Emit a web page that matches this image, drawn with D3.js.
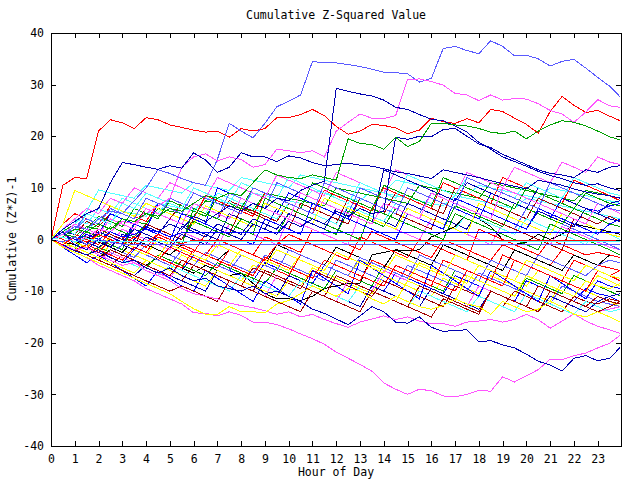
<!DOCTYPE html>
<html>
<head>
<meta charset="utf-8">
<script src="https://cdnjs.cloudflare.com/ajax/libs/d3/7.8.5/d3.min.js"></script>
<style>
body { margin: 0; background: #fff; }
text { font-family: "DejaVu Sans Mono", monospace; font-size: 11.5px; fill: #000; }
</style>
</head>
<body>
<svg></svg>
<script>
const size = { w: 640, h: 480 };
const plot = { l: 51, r: 621, t: 33, b: 446 };

// sample times (hours)
const hours = [0,0.5,1,1.5,2,2.5,3,3.5,4,4.5, 5,5.5,6,6.5,7,7.5,8,8.5,9,9.5,
  10,10.5,11,11.5,12,12.5,13,13.5,14,14.5, 15,15.5,16,16.5,17,17.5,18,18.5,19,19.5,
  20,20.5,21,21.5,22,22.5,23,23.5,23.95];

const xTicks = [0,1,2,3,4,5,6,7,8,9,10,11,12,13,14,15,16,17,18,19,20,21,22,23];
const yTicks = [-40,-30,-20,-10,0,10,20,30,40];

// the dense middle of the bundle
const m01 = [0.5,1,3,5.5,9.6,9,8.5,8,10.5,10, 9.5,9,11,10.5,10,9.5,12,11.5,11,10.5, 10,12.5,12,11.5,11,10.5,10,9.5,9,11.5, 11,10.5,10,9.5,9,8.5,10.5,10,9.5,9, 8.5,8,10,9.5,9,8.5,8,7.5,7];
const m02 = [0,0.5,2,1.5,4,3.5,5.5,5,4.5,7, 6.5,6,5.5,8,7.5,7,6.5,9,8.5,8, 7.5,7,9.5,9,8.5,8,7.5,9.5,9,8.5, 8,7.5,7,6.5,8.5,8,7.5,7,6.5,6, 8,7.5,7,6.5,6,5.5,5,4.5,4];
const m03 = [0,1,0.5,2.5,2,1.5,4,3.5,3,6, 5.5,5,4.5,7.5,7,6.5,6,5.5,9,8.5, 8,7.5,7,6.5,10,9.5,9,8.5,8,7.5, 7,10.5,10,9.5,9,8.5,8,11,10.5,10, 9.5,9,8.5,8,7.5,9.5,9,8.5,8];
const m04 = [1,0,-1,-2,1.5,0.5,-0.5,-1.5,-2.5,0.5, -0.5,-1.5,-2.5,1,0,-1,-2,-3,0.5,-0.5, -1.5,-2.5,2,1,0,-1,-2,1.5,0.5,-0.5, -1.5,-2.5,-3.5,0,-1,-2,-3,-4,-1,-2, -3,-4,-5,-2,-3,-4,-5,-5.5,-6];
const m05 = [0,2,1,3.5,2.5,5,4,3,6,5, 4,7,6,5,4,7.5,6.5,5.5,4.5,3.5, 7,6,5,4,3,8,7,6,5,9, 8,7,6,5,10,9,8,7,6,5, 4,8,7,6,5,4,3,4.5,3.5];
const m06 = [0,-1,-2,-1.5,-2.5,-3.5,-4.5,-2,-3,-4, -5,-6,-3,-4,-5,-6,-7,-8,-4.5,-5.5, -6.5,-7.5,-8.5,-5,-6,-7,-8,-9,-10,-6.5, -7.5,-8.5,-9.5,-10.5,-7,-8,-9,-10,-11,-12, -8,-9,-10,-11,-12,-9.5,-10.5,-11,-12];
const m07 = [0,-1,-1.5,-2.5,-3.5,-1,-2,-3,-4,-5, -6,-3,-4,-5,-6,-7,-8,-5,-6,-7, -8,-9,-5.5,-6.5,-7.5,-8.5,-9.5,-10.5,-7,-8, -9,-10,-11,-7.5,-8.5,-9.5,-10.5,-7,-8,-9, -10,-11,-12,-8,-9,-10,-11,-12,-13];
const m08 = [0,-0.5,-1.5,-2.5,-3.5,-2,-3,-4,-5,-3.5, -4.5,-5.5,-6.5,-5,-6,-7,-6.5,-8.5,-10.5,-11.5, -11.5,-11.8,-11,-9.5,-9,-8.5,-8.5,-3,-2.5,-2, -2.2,-2,0.5,1.5,2.5,5,4,2.5,0,-1, -0.5,1,0,1,3,2.5,2,1.5,1];
const m09 = [0,1.5,1,0,2,1,0,3,2,1, 4,3,2,1,0,5,4,3,2,6, 5,4,3,2,1,6.5,5.5,4.5,3.5,2.5, 7,6,5,4,3,2,6,5,4,3, 2,5.5,4.5,3.5,2.5,6,5,4,3.5];
const m10 = [0,-0.5,-1.5,0.5,-0.5,-1.5,-2.5,-3.5,-1,-2, -3,-4,-5,-2.5,-3.5,-4.5,-5.5,-6.5,-3,-4, -5,-6,-7,-8,-4,-5,-6,-7,-8,-9, -5,-6,-7,-8,-9,-10,-6.5,-7.5,-8.5,-9.5, -10.5,-11.5,-12.5,-9,-10,-11,-12,-12.5,-13];
const m11 = [0,3,5,4,3,6.5,5.5,4.5,3.5,7, 6,5,4,8.5,7.5,6.5,5.5,4.5,9,8, 7,6,5,9.5,8.5,7.5,6.5,5.5,10,9, 8,7,6,11,10,9,8,7,12,11, 10,9,8,7,11.5,10.5,9.5,8.5,7.5];
const m12 = [0,-1,-2,-3,-1.5,-2.5,-3.5,-4.5,-5.5,-3, -4,-5,-6,-7,-4.5,-5.5,-6.5,-7.5,-8.5,-5.5, -6.5,-7.5,-8.5,-9.5,-6,-7,-8,-9,-5,-6, -7,-8,-9,-10,-6,-7,-8,-9,-10,-11, -7.5,-8.5,-9.5,-10.5,-7,-8,-9,-10,-11];
const m13 = [0,1,2,1,0,-1,2,1,0,-1, -2,1.5,0.5,-0.5,-1.5,3,2,1,0,-1, 4,3,2,1,0,-1,5,4,3,2, 1,0,4,3,2,1,0,-1,3,2, 1,0,-1,2.5,1.5,0.5,-0.5,-1.5,-2];
const m14 = [0,2,4,3,6,5,8,7,6,5, 8,7,6,5,9,8,7,6,5,4, 7,6,5,4,3,6.5,5.5,4.5,3.5,7, 6,5,4,3,2,5,4,3,2,1, 4,3,2,1,0,-1,2,1,0];
const m15 = [0,-1,-2,-3,-4,-5,-3,-4,-5,-6, -7,-8,-5,-6,-7,-8,-9,-5.5,-6.5,-7.5, -8.5,-9.5,-6,-7,-8,-9,-10,-11,-8,-9, -10,-11,-12,-13,-9,-10,-11,-12,-13,-10, -11,-12,-13,-14,-11,-12,-12.5,-11.5,-12];
const m16 = [0,1,0,-1,-2,0.5,-0.5,-1.5,-2.5,-3.5, 0,-1,-2,-3,-4,-5,-2,-3,-4,-5, -6,-3,-4,-5,-6,-7,-4,-5,-6,-7, -8,-4.5,-5.5,-6.5,-7.5,-8.5,-5,-6,-7,-8, -9,-6,-7,-8,-9,-10,-7,-8,-9];
const m17 = [0,1,3,2,1,5,4,3,2,7, 6,5,4,3,10,9,8,7,6,5, 9,8,7,6,5,4,8,7,6,5, 10,9,8,7,6,5,4,9,8,7, 6,5,4,8,7,6,5.5,6.5,7];
const m18 = [0,-0.5,-1,0.5,-0.5,-1.5,-2.5,0,-1,-2, -3,-1,-2,-3,-4,-2,-3,-4,-5,-1, -2,-3,-4,-5,-1.5,-2.5,-3.5,-4.5,-5.5,-2, -3,-4,-5,-1,-2,-3,-4,-5,-6,-2, -3,-4,-5,-6,-3,-4,-5,-3,-3.5];
const m19 = [0,-1,-2,-3,-4,-5,-6,-7,-5,-6, -7,-8,-9,-10,-6,-7,-8,-9,-10,-11, -7,-8,-9,-10,-11,-12,-13,-9,-10,-11, -12,-13,-9.5,-10.5,-11.5,-12.5,-13.5,-10,-11,-12, -13,-14,-11,-12,-13,-14,-12,-11,-10.5];
const m20 = [0,1,2,5,4,3,7,6,5,4, 8,7,6,5,4,9,8,7,6,11, 10,9,8,7,6,5,10,9,8,7, 6,5,9,8,7,6,5,4,3,2, 6,5,4,3,2,1,0,-1,-2];
const m21 = [0,2,1,0,-1,1.5,0.5,-0.5,-1.5,1, 0,-1,-2,-3,0,-1,-2,-3,-4,-1, 1,0,-1,-2,-3,-4,0.5,-0.5,-1.5,-2.5, -3.5,0,-1,-2,-3,-4,2,1,0,-1, -2,-3,0,-1,-2,-3,-2.5,-3,-3.5];
const m22 = [0,0.5,-0.5,1.5,0.5,2.5,1.5,0.5,3,2, 1,0,3.5,2.5,1.5,0.5,4,3,2,1, 5,4,3,2,1,5.5,4.5,3.5,2.5,6, 5,4,3,2,6.5,5.5,4.5,3.5,2.5,7, 6,5,4,3,6,5,4,3,2.5];
const m23 = [0,-1,-2,-3,-4,-2.5,-3.5,-4.5,-5.5,-6.5, -7.5,-4,-5,-6,-7,-8,-9,-10,-11,-7, -8,-9,-10,-11,-12,-8,-9,-10,-6,-7, -8,-9,-10,-11,-12,-13,-9,-10,-11,-12, -13,-14,-10,-11,-12,-13,-14,-13.5,-13];
const m24 = [0,-1,-2,-3,-2,-3,-4,-5,-6,-7, -5,-6,-7,-8,-9,-10,-7,-8,-9,-10, -11,-8,-9,-10,-11,-12,-9,-10,-11,-12, -13,-10,-11,-12,-13,-14,-11,-12,-13,-14, -10.5,-11.5,-12.5,-13.5,-14.5,-12,-13,-14,-13.5];
const m25 = [0,1,0,-1,2,1,0,-1,3,2, 1,0,4,3,2,1,6,5,4,3, 2,7,6,5,4,3,8,7,6,5, 4,3,2,8,7,6,5,4,3,2, 1,0,-1,-2,4,3,2,1,0.5];
const m26 = [0,3,9.5,8.5,7.5,6.5,5.5,4.5,7,6, 5,4,3,6.5,5.5,4.5,3.5,2.5,7,6, 5,4,3,8,7,6,5,4,3,2, 6,5,4,3,2,1,7,6,5,4, 3,2,1,5,4,3,2,1,0.5];
const m27 = [0,-1.5,-3,-4.5,-3,-4.5,-6,-7.5,-9,-6, -7.5,-9,-10,-6,-7.5,-9,-10.5,-12,-8,-9.5, -11,-12.5,-6,-7.5,-9,-10.5,-4,-5.5,-7,-8.5, -10,-11.5,-5,-6.5,-8,-9.5,-11,-6,-7.5,-9, -10.5,-12,-7,-8.5,-10,-11.5,-8,-9,-9.5];
const m28 = [0,-1,-2,-3,-4,-5,-6,-7,-8,-9, -10,-9,-10,-11,-12,-8,-9,-10,-11,-12, -13,-14,-10,-11,-12,-13,-14,-10,-11,-12, -13,-14,-15,-11.5,-12.5,-13.5,-14.5,-10,-11,-12, -13,-14,-10,-11,-12,-13,-14,-13,-12];
const m29 = [0,-1,-2,1,0,-1,-2,3,2,1, 0,-1,6,5,4,3,2,1,8,7, 6,5,4,3,2,1,0,6,5,4, 3,2,1,0,5,4,3,2,1,0, -1,-2,3,2,1,0,-1,-2,-3];
const m30 = [0,0.5,-0.5,-1.5,-2.5,0,-1,-2,-3,-4, -1.5,-2.5,-3.5,-4.5,-5.5,-2,-3,-4,-5,-6, -7,-3,-4,-5,-6,-7,-8,-4,-5,-6, -7,-8,-9,-4,-5,-6,-7,-8,-3,-4, -5,-6,-7,-8,-4,-5,-6,-7,-6];
const m31 = [0,2,4,6,5,8,7,10,9,8, 11,10,9,8,12,11,10,9,8,12.5, 11.5,10.5,9.5,8.5,13,12,11,10,9,13.5, 12.5,11.5,10.5,9.5,8.5,13,12,11,10,14, 13,12,11,15,14,13,16,15,14.5];
const m32 = [0,1,0,-1,-2,-3,-1,-2,-3,-4, -5,-2,-3,-4,-5,-6,-3,-4,-5,-6, -2,-3,-4,-5,-6,-7,-3.5,-4.5,-5.5,-6.5, -7.5,-3,-4,-5,-6,-7,-8,-4,-5,-6, -7,-3,-4,-5,-6,-7,-5,-4,-4.5];
const m33 = [0,-0.5,-1.5,-2.5,-3.5,-4.5,-5.5,-6.5,-4,-5, -6,-7,-8,-9,-6,-7,-8,-9,-10,-11, -8,-9,-10,-11,-7,-8,-9,-10,-11,-12, -8,-9,-10,-11,-12,-7,-8,-9,-10,-11, -7,-8,-9,-10,-11,-8,-9,-9.5,-8.5];
const m34 = [0,1,0,-1,1.5,0.5,-0.5,2,1,0, -1,2.5,1.5,0.5,3,2,1,4,3,2, 5,4,3,2,6,5,4,3,13.5,12.5, 11.5,10.5,9.5,8.5,7.5,11,10,9,8,7, 6,10,9,8,7,6,5,7,7.5];
const m35 = [0,1.5,3,2,4.5,3.5,2.5,6,5,4, 7.5,6.5,5.5,4.5,8,7,6,10,9,8, 7,6,11,10,9,8,7,6,10.5,9.5, 8.5,7.5,6.5,12,11,10,9,8,7,6, 10,9,8,7,6,9,8,7,6.5];
const m36 = [0,2,1,5,4,3,7,6,9,8, 7,6,10,9,8,7,11,10,9,8, 12,11,10,9,8,7,11,10,9,8, 12.5,11.5,10.5,9.5,8.5,12,11,10,9,8, 11,10,9,8,12,11,10,9,8.5];
const m37 = [0,-1,-2,-1,-2,-3,-4,-1.5,-2.5,-3.5, -4.5,-5.5,-2,-3,-4,-5,-6,-7,-3.5,-4.5, -5.5,-6.5,-7.5,-4,-5,-6,-7,-8,-9,-5, -6,-7,-8,-9,-10,-6,-7,-8,-9,-4, -5,-6,-7,-8,-9,-10,-6,-7,-8];
const m38 = [0,0.5,-0.5,2,1,0,-1,3,2,1, 0,5,4,3,2,1,0,-1,4,3, 2,1,7,6,5,4,3,2,1,0, 5,4,3,2,8,7,6,5,4,3, 2,6,5,4,3,2,1,3,4];
const m39 = [0,-1,-2,-3,-4,-2,-3,-4,-5,-6, -7,-4,-5,-6,-7,-8,-9,-10,-6,-7, -8,-9,-10,-11,-7,-8,-9,-10,-11,-12, -13,-9,-10,-11,-12,-13,-14,-10,-11,-12, -13,-9,-10,-11,-12,-13,-11,-12,-12.5];
const m40 = [0,1,3,2,1,4,3,2,6,5, 4,3,7,6,5,4,8,7,6,5, 4,9,8,7,6,5,4,3,7,6, 5,4,9,8,7,6,5,4,10,9, 8,7,6,5,4,3,7,6,5];
const m41 = [0,0.5,-0.5,-1.5,1,0,-1,-2,-3,0, -1,-2,-3,-4,-1,-2,-3,-4,-5,-2, -3,-4,-5,-6,-2.5,-3.5,-4.5,-5.5,-6.5,-3, -4,-5,-6,-7,-3,-4,-5,-6,-7,-8, -4,-5,-6,-7,-8,-5,-6,-7,-7.5];
const m42 = [0,1,2,4,3,6,5,4,8,7, 6,5,9,8,7,6,5,10,9,8, 7,6,5,11,10,9,8,7,6,5, 10,9,8,7,6,12,11,10,9,8, 7,6,11,10,9,8,7,6,5.5];

// the lines that stand out from the bundle
const redHigh = [0,10.5,12,11.8,21,23.2,22.6,21.5,23.6,23.2, 22.2,21.7,21.2,20.8,21,19.8,21.5,21,21.5,23.6, 23.6,24.2,25.2,24,21.9,20.4,21,22.3,22.1,21.6, 20.5,21.2,23.5,22.8,22.5,23.4,22.6,25.2,24.8,23.5, 22.3,20.6,24.8,27.7,26,24.6,25,23.9,23];
const slateHigh = [0,1,2.5,2,4,5.5,5,7.5,10,13.5, 12.8,11.8,11,10.5,15.5,22.5,21,19.7,22.5,25.7, 26.8,28,34.5,34.2,34.2,33.9,33.5,33,32.4,32.3, 32.1,30.5,31.2,37,37.4,36.6,36,38.5,37.4,35.6, 35.7,35,33.6,34.5,34.9,33.2,31.4,29.7,27.6];
const magentaHigh = [0,1,-0.5,0.5,2,1.5,3.5,3,5,6.5, 8,14,16,16.6,15.2,16,15.5,14,14.5,17.5, 17.2,16.8,17.2,16,21,22.7,24.3,23.5,23.4,24, 31,31.1,30.6,29.9,28.3,28,26.9,28,27,27.3, 27.2,26.3,25,24.3,22.7,24.7,27.1,25.9,25.6];
const navyJump = [0,1.5,-1,-2,0,-1.5,1,0,2.5,1.5, 3,2,4.5,3.5,5,6.5,5.5,7,6,8, 7.5,9.5,10.5,11.3,29.3,28.7,28.2,27.8,27,25.6, 25.2,24.2,23.3,23,22,20.8,18.8,17.5,16,15.1, 14.2,13.2,12.4,11.8,11,10.5,10.8,10,9.5];
const navyPlateau = [0,2,3.5,5,6,11,14.9,14.5,14,13.6, 14.3,13.8,16.8,15.4,13,14,16.8,16,16,15.1, 16.2,15.8,14.9,14.3,14.5,14.8,14.4,14.2,13.7,13.1, 12.8,12.3,11.8,13.5,13,12.5,12,11.4,10.8,10.3, 9.8,11.5,11,10.5,9.8,9.2,8.8,8.5,8];
const navyLate = [0,-1,0.5,-0.5,-1.5,0,-1,-2,0.5,-0.5, -1.5,1,0,-1,2,1,0,3,2,1, 3.5,2.5,4,3,5.5,4.5,6,5,5.5,19.8, 19.4,20,19.9,21.3,21.5,20,18.5,17.8,16.5,15.5, 14.5,13.5,12.8,12.5,12,13.5,13,14,14.3];
const greenHigh = [0,0.5,2,1.5,3,2,4,3.5,5,4.5, 6,5.5,7,8.5,8,9,8.5,11,13.5,12.5, 12,11.8,12.5,12,11.5,19.5,18.6,18.4,17.5,19.8, 18,19,22.5,22.5,22.2,22,21.5,20.8,20.5,21, 19.5,21,22.2,23,22.7,22,21,19.9,19.3];
const magentaLow = [0,-1.2,-2.5,-3.5,-5,-6,-7,-8,-9.5,-10.5, -11.5,-12.5,-14.2,-14.3,-14.8,-14,-14.7,-16,-16,-16.5, -17.3,-18.3,-19.2,-20.3,-21.8,-23,-24.2,-25.5,-27.8,-29, -30,-29,-29.3,-30.3,-30.5,-30,-29.2,-29.4,-26.6,-27.6, -26.4,-25.2,-23.2,-23.3,-22.5,-22,-21,-20.1,-18.5];
const magentaLow2 = [0,-1,-2,-1.5,-3,-4,-5,-4.5,-6,-7, -8,-9.5,-10.5,-11,-11.5,-12.3,-12.8,-13.2,-13.8,-14.5, -14,-15,-14.5,-15.5,-16.3,-17,-16,-15.4,-14.8,-15.5, -15,-15.8,-16.3,-16.3,-16.8,-16,-15.8,-15.5,-16,-15.5, -14.5,-15.5,-17.2,-15.8,-14.4,-15.8,-16.8,-17.5,-18.2];
const navyLow = [0,-1,-2.2,-3,-2,-3.5,-4.5,-4,-5.5,-6.5, -5.5,-7,-8,-7.5,-9,-9.5,-10,-9,-10.5,-10, -11,-12,-13.5,-14.3,-15.4,-16.5,-14.8,-13,-14,-16, -16.2,-15,-17,-17.8,-17.6,-17.5,-19.8,-19.6,-20.4,-21, -22.2,-23.6,-24.3,-25.5,-23,-22.5,-23.5,-23,-20.9];
const yellowLow = [0,-1.5,-2.5,-3.5,-4.5,-5.5,-6.5,-7.5,-8.5,-9.5, -10.5,-12,-13.4,-14.5,-14.5,-13,-14,-14,-14.2,-12.5, -11.8,-10.5,-9,-10,-11,-9.5,-10,-11.5,-12.5,-11, -12,-13,-13.5,-12.8,-11.5,-12.5,-13,-14.5,-12,-13, -14,-13.5,-12,-13,-14.5,-15,-14,-15,-16];

// days that stop changing early and run flat
const blueFlat = [0,0.5,-0.5,1,0,1.5,0.5,1,2,1.5, 0.5,1.3,1.3,1.3,1.3,1.3,1.3,1.3,1.3,1.3, 1.3,1.3,1.3,1.3,1.3,1.3,1.3,1.3,1.3,1.3, 1.3,1.3,1.3,1.3,1.3,1.3,1.3,1.3,1.3,1.3, 1.3,1.3,1.3,1.3,1.3,1.3,1.3,1.3,1.3];
const redFlat = [0,-1,0.5,-0.5,1,0,-1,0.5,-0.5,1, 0,-0.8,-0.1,-0.1,-0.1,-0.1,-0.1,-0.1,-0.1,-0.1, -0.1,-0.1,-0.1,-0.1,-0.1,-0.1,-0.1,-0.1,-0.1,-0.1, -0.1,-0.1,-0.1,-0.1,-0.1,-0.1,-0.1,-0.1,-0.1,-0.1, -0.1,-0.1,-0.1,-0.1,-0.1,-0.1,-0.1,-0.1,-0.1];
const cyanFlat = [0,0.5,-0.5,0.2,-0.4,-0.4,-0.4,-0.4,-0.4,-0.4, -0.4,-0.4,-0.4,-0.4,-0.4,-0.4,-0.4,-0.4,-0.4,-0.4, -0.4,-0.4,-0.4,-0.4,-0.4,-0.4,-0.4,-0.4,-0.4,-0.4, -0.4,-0.4,-0.4,-0.4,-0.4,-0.4,-0.4,-0.4,-0.4,-0.4, -0.4,-0.4,-0.4,-0.4,-0.4,-0.4,-0.4,-0.4,-0.4];
const slateFlat = [0,-0.5,0.5,-1,0,-0.5,-0.9,-0.9,-0.9,-0.9, -0.9,-0.9,-0.9,-0.9,-0.9,-0.9,-0.9,-0.9,-0.9,-0.9, -0.9,-0.9,-0.9,-0.9,-0.9,-0.9,-0.9,-0.9,-0.9,-0.9, -0.9,-0.9,-0.9,-0.9,-0.9,-0.9,-0.9,-0.9,-0.9,-0.9, -0.9,-0.9,-0.9,-0.9,-0.9,-0.9,-0.9,-0.9,-0.9];

const palette = {
	red: "#ff0000", green: "#00a000", blue: "#0000ff", magenta: "#ff55ff",
	cyan: "#55ffff", darkred: "#a00000", yellow: "#ffff00", black: "#000000",
	navy: "#0000b0", slate: "#5a5aff",
};

// drawing order = list order (later lines on top)
const lines = [
	[m01, "cyan"], [m02, "cyan"], [m03, "green"], [m04, "red"], [m05, "darkred"],
	[m06, "blue"], [m07, "yellow"], [m08, "black"], [m09, "navy"], [m10, "slate"],
	[m11, "red"], [m12, "green"], [m13, "magenta"], [m14, "cyan"], [m15, "darkred"],
	[m16, "yellow"], [m17, "blue"], [m18, "black"], [m19, "navy"], [m20, "slate"],
	[m21, "red"], [m22, "green"], [m23, "magenta"], [m24, "cyan"], [m25, "darkred"],
	[m26, "yellow"], [m27, "blue"], [m28, "darkred"], [m29, "green"], [m30, "red"],
	[m31, "magenta"], [m32, "slate"], [m33, "yellow"], [m34, "navy"],
	[m35, "green"], [m36, "cyan"], [m37, "red"], [m38, "blue"], [m39, "darkred"],
	[m40, "magenta"], [m41, "yellow"], [m42, "slate"],
	[redHigh, "red"], [slateHigh, "slate"], [magentaHigh, "magenta"], [navyJump, "navy"],
	[navyPlateau, "navy"], [navyLate, "navy"], [greenHigh, "green"], [magentaLow, "magenta"],
	[magentaLow2, "magenta"], [navyLow, "navy"], [yellowLow, "yellow"],
	[blueFlat, "blue"], [redFlat, "red"], [cyanFlat, "cyan"], [slateFlat, "slate"],
];

const svg = d3.select("svg").attr("width", size.w).attr("height", size.h);
svg.append("rect").attr("width", size.w).attr("height", size.h).attr("fill", "#fff");

const x = d3.scaleLinear().domain([0, 23.98]).range([plot.l, plot.r]);
const y = d3.scaleLinear().domain([-40, 40]).range([plot.b, plot.t]);

svg.append("clipPath").attr("id", "clip")
	.append("rect").attr("x", plot.l).attr("y", plot.t)
	.attr("width", plot.r - plot.l + 1).attr("height", plot.b - plot.t + 1);

const line = d3.line()
	.x((d, i) => x(hours[i]))
	.y((d) => y(d));

const lineG = svg.append("g").attr("clip-path", "url(#clip)");
lines.forEach(function (s) {
	lineG.append("path")
		.attr("d", line(s[0].slice(0, hours.length)))
		.attr("fill", "none")
		.attr("stroke", palette[s[1]])
		.attr("stroke-width", 1)
		.attr("shape-rendering", "crispEdges");
});

// axes, ticks pointing inward on all four sides
const fmt = (d) => String(d);
svg.append("g").attr("transform", `translate(0,${plot.b})`)
	.call(d3.axisBottom(x).tickValues(xTicks).tickSize(-5).tickPadding(9).tickFormat(fmt));
svg.append("g").attr("transform", `translate(0,${plot.t})`)
	.call(d3.axisTop(x).tickValues(xTicks).tickSize(-5).tickFormat(""));
svg.append("g").attr("transform", `translate(${plot.l},0)`)
	.call(d3.axisLeft(y).tickValues(yTicks).tickSize(-5).tickPadding(7).tickFormat(fmt));
svg.append("g").attr("transform", `translate(${plot.r},0)`)
	.call(d3.axisRight(y).tickValues(yTicks).tickSize(-5).tickFormat(""));

svg.selectAll(".domain").remove();
svg.selectAll(".tick line").attr("stroke", "#000").attr("shape-rendering", "crispEdges");
svg.selectAll(".tick text")
	.style("font-family", '"DejaVu Sans Mono", monospace')
	.style("font-size", "11.5px")
	.attr("fill", "#000");

svg.append("rect")
	.attr("x", plot.l + 0.5).attr("y", plot.t + 0.5)
	.attr("width", plot.r - plot.l).attr("height", plot.b - plot.t)
	.attr("fill", "none").attr("stroke", "#000")
	.attr("shape-rendering", "crispEdges");

svg.append("text").attr("x", 336).attr("y", 19).attr("text-anchor", "middle")
	.text("Cumulative Z-Squared Value");
svg.append("text").attr("x", 336).attr("y", 476).attr("text-anchor", "middle")
	.text("Hour of Day");
svg.append("text").attr("transform", "translate(16,239) rotate(-90)")
	.attr("text-anchor", "middle")
	.text("Cumulative (Z*Z)-1");
</script>
</body>
</html>
